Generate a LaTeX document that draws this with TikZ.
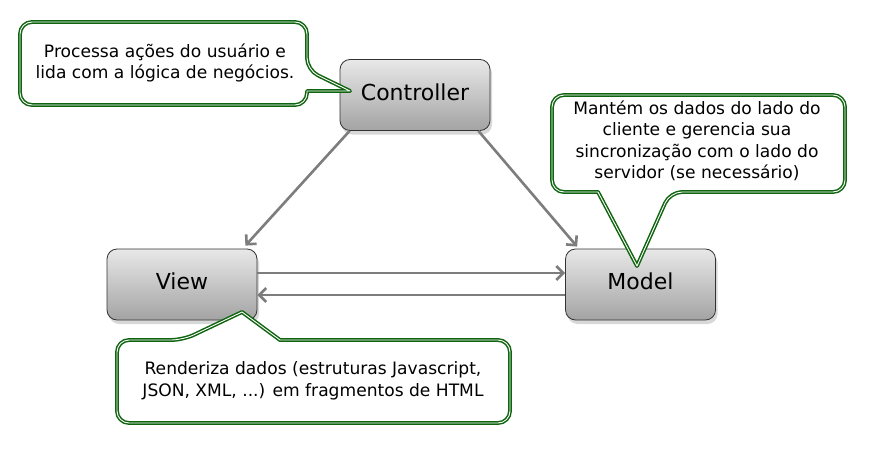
\documentclass[tikz,border=0pt]{standalone}
\usepackage{fontspec}
\setmainfont{DejaVu Sans}
\usetikzlibrary{arrows.meta,shadows}
\definecolor{cgreen}{RGB}{15,100,15}
\definecolor{agray}{RGB}{125,125,125}
\begin{document}
\begin{tikzpicture}[x=1pt,y=-1pt,
  box/.style={draw=black!80, line width=0.8pt, rounded corners=10pt, minimum width=150pt, minimum height=71pt,
    top color=black!9, bottom color=black!36,
    drop shadow={shadow xshift=2pt, shadow yshift=-4pt, opacity=0.3},
    font=\fontsize{22}{26}\selectfont, inner sep=0pt, text depth=6.5pt},
  callout/.style={draw=cgreen, double=white, line width=1.5pt, double distance=0.9pt, fill=white, line join=round},
  ctext/.style={align=center, font=\fontsize{17.1}{21.5}\selectfont, inner sep=0pt},
  conn/.style={draw=agray, line width=2.6pt, -{Straight Barb[length=7pt,width=14pt]}}]
\useasboundingbox[fill=white] (0,0) rectangle (874,460);

% boxes
\node[box] (C) at (415,95) {Controller};
\node[box] (V) at (182,284.5) {View};
\node[box] (M) at (640.5,284.5) {Model};

% connectors
\draw[conn] ([xshift=10pt]C.south west) -- ([xshift=-12pt,yshift=3pt]V.north east);
\draw[conn] ([xshift=-12pt]C.south east) -- ([xshift=12pt,yshift=2pt]M.north west);
\draw[conn] ([yshift=11.5pt]V.east) -- ([yshift=11.5pt]M.west);
\draw[conn] ([yshift=-10.5pt]M.west) -- ([yshift=-10.5pt]V.east);

% callouts
\draw[callout, rounded corners=12pt] (20,22) -- (307,22) -- (307,70) [sharp corners] -- (350,91) -- (307,91) [rounded corners=12pt] -- (307,105) -- (20,105) -- cycle;
\draw[callout, rounded corners=12pt] (552,95) -- (845,95) -- (845,192) -- (670,192) [sharp corners] -- (637,266) -- (598,192) [rounded corners=12pt] -- (552,192) -- cycle;
\draw[callout, rounded corners=12pt] (117,340) -- (183,340) [sharp corners] -- (242,312) -- (280,340) [rounded corners=12pt] -- (510,340) -- (510,423) -- (117,423) -- cycle;

\node[ctext] (t1) at (165,63) {Processa ações do usuário e\\lida com a lógica de negócios.};
\node[ctext] (t2) at (697,141) {Mantém os dados do lado do\\cliente e gerencia sua\\sincronização com o lado do\\servidor (se necessário)};
\node[ctext] (t3) at (313,381) {Renderiza dados (estruturas Javascript,\\JSON, XML, ...) em fragmentos de HTML};
\end{tikzpicture}
\end{document}
